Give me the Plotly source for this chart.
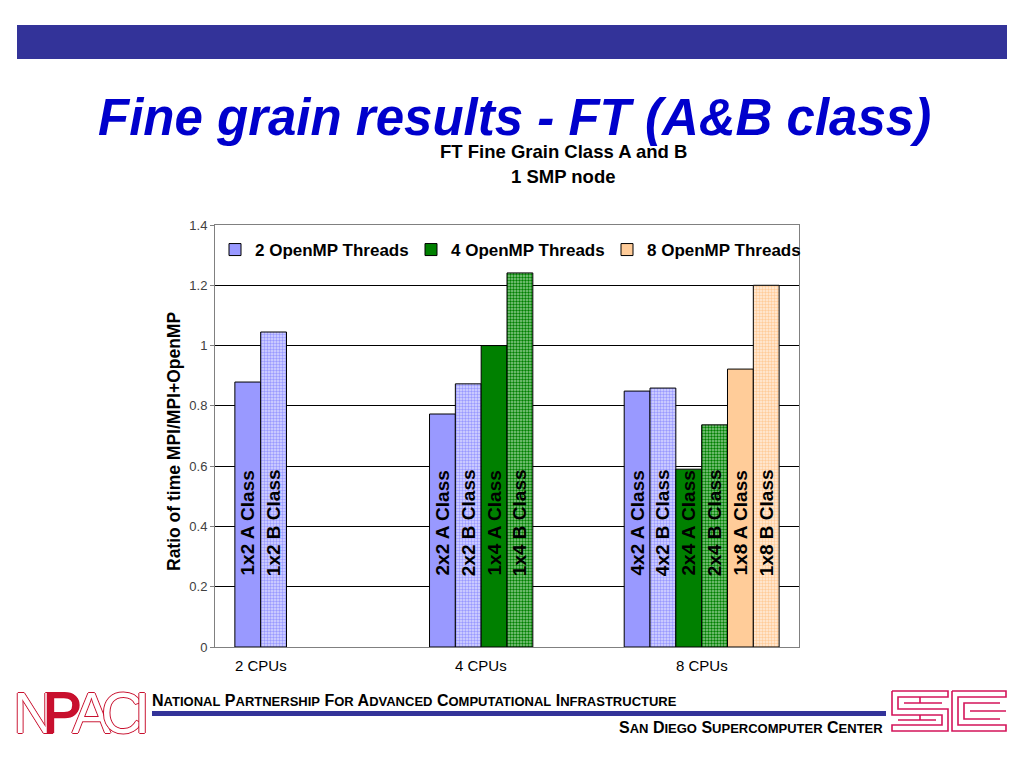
import plotly.graph_objects as go

# ---------------- data ----------------
categories = ["2 CPUs", "4 CPUs", "8 CPUs"]
legend_names = ["2 OpenMP Threads", "4 OpenMP Threads", "8 OpenMP Threads"]

cats_2t = ["2 CPUs", "4 CPUs", "8 CPUs"]
vals_2t_A = [0.879, 0.773, 0.849]
labels_2t_A = ["1x2 A Class", "2x2 A Class", "4x2 A Class"]
vals_2t_B = [1.045, 0.873, 0.859]
labels_2t_B = ["1x2 B Class", "2x2 B Class", "4x2 B Class"]

cats_4t = ["4 CPUs", "8 CPUs"]
vals_4t_A = [1.0, 0.590]
labels_4t_A = ["1x4 A Class", "2x4 A Class"]
vals_4t_B = [1.241, 0.737]
labels_4t_B = ["1x4 B Class", "2x4 B Class"]

cats_8t = ["8 CPUs"]
vals_8t_A = [0.922]
labels_8t_A = ["1x8 A Class"]
vals_8t_B = [1.2]
labels_8t_B = ["1x8 B Class"]

y_ticks = [0, 0.2, 0.4, 0.6, 0.8, 1.0, 1.2, 1.4]

# ---------------- layout constants ----------------
W, H = 1024, 768
L, R, T, B = 215, 225, 225, 121
PW = W - L - R
PH = H - T - B
BARGAP = 0.204
LABEL_BASE = 0.2
LABEL_SPAN = 0.424
FONT = "Liberation Sans, Arial, sans-serif"

BLUE = "#9999FF"
GREEN = "#008000"
PEACH = "#FFCC99"
BLUE_LIGHT = "#D9D9FF"
GREEN_LIGHT = "#8CCB8C"
PEACH_LIGHT = "#FFEEDD"
SLIDE_BLUE = "#333399"
LOGO_RED = "#C8102E"


def px(x):
    return (x - L) / PW


def py(y):
    return (H - B - y) / PH


series = [
    dict(cats=cats_2t, vals=vals_2t_A, labels=labels_2t_A, color=BLUE, light=None, legend=legend_names[0]),
    dict(cats=cats_2t, vals=vals_2t_B, labels=labels_2t_B, color=BLUE, light=BLUE_LIGHT, legend=None),
    dict(cats=cats_4t, vals=vals_4t_A, labels=labels_4t_A, color=GREEN, light=None, legend=legend_names[1]),
    dict(cats=cats_4t, vals=vals_4t_B, labels=labels_4t_B, color=GREEN, light=GREEN_LIGHT, legend=None),
    dict(cats=cats_8t, vals=vals_8t_A, labels=labels_8t_A, color=PEACH, light=None, legend=legend_names[2]),
    dict(cats=cats_8t, vals=vals_8t_B, labels=labels_8t_B, color=PEACH, light=PEACH_LIGHT, legend=None),
]

fig = go.Figure()

for i, s in enumerate(series):
    marker = dict(color=s["color"], line=dict(color="black", width=1))
    if s["light"]:
        marker["pattern"] = dict(shape=".", fillmode="replace", bgcolor=s["light"],
                                 fgcolor=s["color"], size=3, solidity=0.5)
    fig.add_trace(go.Bar(
        x=s["cats"], y=s["vals"], offsetgroup=str(i), marker=marker,
        name=s["legend"] or "", showlegend=s["legend"] is not None,
        hoverinfo="x+y",
    ))

# label layer (transparent bars carrying the rotated class labels)
for i, s in enumerate(series):
    fig.add_trace(go.Bar(
        x=s["cats"], y=[LABEL_SPAN] * len(s["cats"]), base=LABEL_BASE,
        offsetgroup=str(i), text=s["labels"], textposition="inside",
        insidetextanchor="middle", textangle=-90,
        textfont=dict(family=FONT, size=19, color="black", weight="bold"),
        marker=dict(color="rgba(0,0,0,0)", line=dict(width=0)),
        showlegend=False, hoverinfo="skip",
    ))

annotations = []

# category labels centred under the bars of each category
slot = (1 - BARGAP) / len(series)
for ci, cat in enumerate(categories):
    n = sum(1 for s in series if cat in s["cats"])
    xpos = ci - (len(series) - n) / 2 * slot
    annotations.append(dict(x=xpos, xref="x", y=py(665), yref="paper", text=cat,
                            showarrow=False, xanchor="center", yanchor="middle",
                            font=dict(family=FONT, size=15, color="black")))

# y axis title
annotations.append(dict(x=px(174), y=py(442), xref="paper", yref="paper",
                        text="Ratio of time MPI/MPI+OpenMP", textangle=-90,
                        showarrow=False, xanchor="center", yanchor="middle",
                        font=dict(family=FONT, size=17.5, color="black", weight="bold")))

# chart titles
annotations.append(dict(x=px(563), y=py(152), xref="paper", yref="paper",
                        text="FT Fine Grain Class A and B", showarrow=False,
                        xanchor="center", yanchor="middle",
                        font=dict(family=FONT, size=18.5, color="black", weight="bold")))
annotations.append(dict(x=px(563), y=py(177), xref="paper", yref="paper",
                        text="1 SMP node", showarrow=False,
                        xanchor="center", yanchor="middle",
                        font=dict(family=FONT, size=18.5, color="black", weight="bold")))

# slide title
annotations.append(dict(x=px(514), y=py(117), xref="paper", yref="paper",
                        text="Fine grain results - FT (A&amp;B class)", showarrow=False,
                        xanchor="center", yanchor="middle",
                        font=dict(family=FONT, size=51, color="#0000CC",
                                  weight="bold", style="italic")))


def small_caps(text, small):
    words = []
    for w in text.split(" "):
        words.append(w[0] + '<span style="font-size:%dpx">%s</span>' % (small, w[1:].upper()))
    return " ".join(words)


annotations.append(dict(x=px(150), y=py(700), xref="paper", yref="paper",
                        text=small_caps("NATIONAL PARTNERSHIP FOR ADVANCED COMPUTATIONAL INFRASTRUCTURE", 13),
                        showarrow=False, xanchor="left", yanchor="middle",
                        font=dict(family=FONT, size=16, color="black", weight="bold")))
annotations.append(dict(x=px(885), y=py(727), xref="paper", yref="paper",
                        text=small_caps("SAN DIEGO SUPERCOMPUTER CENTER", 13),
                        showarrow=False, xanchor="right", yanchor="middle",
                        font=dict(family=FONT, size=16, color="black", weight="bold")))

# NPACI logo letters
outline = ", ".join("%s %s 0 %s" % (a, b, LOGO_RED) for a, b in
                    [("1px", "0"), ("-1px", "0"), ("0", "1px"), ("0", "-1px")])
for letter, cx, filled in [("N", 34, False), ("P", 62, True), ("A", 91, False),
                           ("C", 122, False), ("I", 142, False)]:
    annotations.append(dict(x=px(cx), y=py(712), xref="paper", yref="paper",
                            text=letter, showarrow=False, xanchor="center", yanchor="middle",
                            font=dict(family="Liberation Sans Narrow, Liberation Sans, sans-serif",
                                      size=58, color=LOGO_RED if filled else "white",
                                      shadow=outline)))

shapes = []
# top slide band
shapes.append(dict(type="rect", xref="paper", yref="paper", x0=px(17), x1=px(1007),
                   y0=py(59), y1=py(25), fillcolor=SLIDE_BLUE, line=dict(width=0), layer="above"))
# footer rule
shapes.append(dict(type="rect", xref="paper", yref="paper", x0=px(152), x1=px(886),
                   y0=py(716), y1=py(711), fillcolor=SLIDE_BLUE, line=dict(width=0), layer="above"))


def path(points):
    return "M " + " L ".join("%.5f,%.5f" % (px(a), py(b)) for a, b in points)


sdsc_paths = [
    # left block (maze-like S)
    [(892, 691), (948, 691), (948, 697), (898, 697), (898, 709), (948, 709), (948, 731), (892, 731), (892, 725), (942, 725), (942, 715), (892, 715), (892, 691)],
    [(904, 703), (942, 703)],
    [(898, 720), (936, 720)],
    [(920, 697), (920, 703)],
    [(920, 715), (920, 720)],
    # right block
    [(952, 691), (1006, 691), (1006, 697), (958, 697), (958, 725), (1006, 725), (1006, 731), (952, 731), (952, 691)],
    [(1000, 703), (964, 703), (964, 719), (1000, 719)],
    [(970, 711), (1006, 711)],
]
for pts in sdsc_paths:
    shapes.append(dict(type="path", xref="paper", yref="paper", path=path(pts),
                       line=dict(color="#D4145A", width=1.6), layer="above"))

fig.update_layout(
    width=W, height=H, autosize=False,
    margin=dict(l=L, r=R, t=T, b=B, pad=0, autoexpand=False),
    paper_bgcolor="white", plot_bgcolor="white",
    barmode="group", bargap=BARGAP, bargroupgap=0,
    uniformtext=dict(minsize=19, mode="show"),
    font=dict(family=FONT, color="black"),
    showlegend=True,
    legend=dict(orientation="h", x=0, y=py(250), xanchor="left", yanchor="middle",
                entrywidth=151, entrywidthmode="pixels",
                font=dict(family=FONT, size=17, color="black", weight="bold"),
                bgcolor="rgba(0,0,0,0)", traceorder="normal"),
    xaxis=dict(type="category", categoryorder="array", categoryarray=categories,
               range=[-0.5, len(categories) - 0.5], showticklabels=False, ticks="",
               showgrid=False, showline=True, linecolor="#808080", linewidth=1, mirror=True,
               zeroline=False, fixedrange=True),
    yaxis=dict(range=[0, 1.4], tickvals=y_ticks, ticktext=["%g" % v for v in y_ticks],
               showgrid=True, gridcolor="black", gridwidth=1, zeroline=False,
               showline=True, linecolor="#808080", linewidth=1, mirror=True,
               ticks="outside", ticklen=4, tickcolor="#808080",
               tickfont=dict(family=FONT, size=13, color="#404040"), fixedrange=True),
    annotations=annotations,
    shapes=shapes,
)

fig.write_html("out.html", config={"displayModeBar": False},
               post_script="document.body.style.margin='0';document.body.style.overflow='hidden';")
